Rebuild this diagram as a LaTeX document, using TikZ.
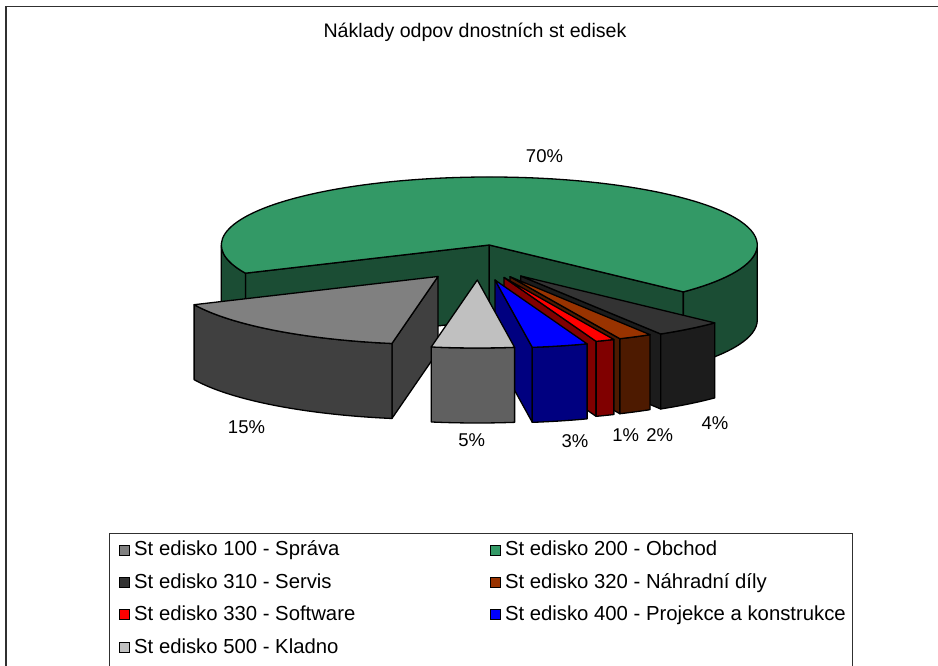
\documentclass[tikz,border=0pt]{standalone}
\usepackage{fontspec}
\setmainfont{Liberation Sans}
\usetikzlibrary{calc}
\definecolor{gtop}{HTML}{339966}
\definecolor{gwall}{HTML}{1B4D34}
\definecolor{ctop100}{HTML}{808080}
\definecolor{cwall100}{HTML}{404040}
\definecolor{ctop500}{HTML}{C0C0C0}
\definecolor{cwall500}{HTML}{606060}
\definecolor{ctop400}{HTML}{0000FF}
\definecolor{cwall400}{HTML}{000080}
\definecolor{ctop330}{HTML}{FF0000}
\definecolor{cwall330}{HTML}{800000}
\definecolor{ctop320}{HTML}{993300}
\definecolor{cwall320}{HTML}{4D1A00}
\definecolor{ctop310}{HTML}{333333}
\definecolor{cwall310}{HTML}{1C1C1C}
\definecolor{framec}{HTML}{303030}
% apex, start angle, end angle, colour
\newcommand\pieslicetop[4]{%
  \filldraw[fill=#4, edge] (#1) -- ($(#1)+(#2:268pt and 68pt)$)
    arc[start angle=#2, end angle=#3, x radius=268pt, y radius=68pt] -- cycle;}
\newcommand\pieslicewall[4]{%
  \filldraw[fill=#4, edge] ($(#1)+(#2:268pt and 68pt)$)
    arc[start angle=#2, end angle=#3, x radius=268pt, y radius=68pt] -- ++(0,-75)
    arc[start angle=#3, end angle=#2, x radius=268pt, y radius=68pt] -- cycle;}
\newcommand\piesliceside[3]{%
  \filldraw[fill=#3, edge] (#1) -- ($(#1)+(#2:268pt and 68pt)$) -- ++(0,-75)
    -- ($(#1)+(0,-75)$) -- cycle;}
\begin{document}
\begin{tikzpicture}[x=1pt,y=1pt,
  edge/.style={draw=black, line width=1.3pt, line join=round},
  pct/.style={font=\fontsize{18.5}{22}\selectfont, anchor=base, inner sep=0pt},
  leg/.style={font=\fontsize{20.3}{24}\selectfont, anchor=base west, inner sep=0pt},
  legmark/.style={draw=black, line width=0.9pt, minimum width=10pt, minimum height=10pt, inner sep=0pt}]
\clip (0,0) rectangle (938,666);
\fill[white] (0,0) rectangle (938,666);
% chart frame
\draw[framec, line width=1.4pt] (6,-5) -- (6,659.5) -- (945,659.5);
% title
\node[font=\fontsize{19.6}{24}\selectfont, anchor=base, inner sep=0pt] (title) at (475,628.7) {Náklady odpov dnostních st edisek};
% apexes
\coordinate (G) at (489.3,421);
\coordinate (A100) at (438,389.5);
\coordinate (A500) at (477.3,386);
\coordinate (A400) at (495,386);
\coordinate (A330) at (504,388.5);
\coordinate (A320) at (510,389.3);
\coordinate (A310) at (520.7,390);
% 200 - green
\piesliceside{G}{204.5}{gwall}
\piesliceside{G}{-43.6}{gwall}
\pieslicewall{G}{180}{204.5}{gwall}
\pieslicewall{G}{-43.6}{0}{gwall}
\pieslicetop{G}{-43.6}{204.5}{gtop}
% 310
\piesliceside{A310}{-58.5}{cwall310}
\pieslicewall{A310}{-58.5}{-43.6}{cwall310}
\pieslicetop{A310}{-58.5}{-43.6}{ctop310}
% 320
\piesliceside{A320}{-65.8}{cwall320}
\pieslicewall{A320}{-65.8}{-58.5}{cwall320}
\pieslicetop{A320}{-65.8}{-58.5}{ctop320}
% 330
\piesliceside{A330}{-69.9}{cwall330}
\pieslicewall{A330}{-69.9}{-65.8}{cwall330}
\pieslicetop{A330}{-69.9}{-65.8}{ctop330}
% 400
\piesliceside{A400}{-82}{cwall400}
\pieslicewall{A400}{-82}{-69.9}{cwall400}
\pieslicetop{A400}{-82}{-69.9}{ctop400}
% 100
\piesliceside{A100}{260.1}{cwall100}
\pieslicewall{A100}{204.5}{260.1}{cwall100}
\pieslicetop{A100}{204.5}{260.1}{ctop100}
% 500
\pieslicewall{A500}{-99.9}{-82}{cwall500}
\pieslicetop{A500}{-99.9}{-82}{ctop500}
% percentage labels
\node[pct] (p200) at (544.5,503) {70\%};
\node[pct] (p100) at (246.5,232) {15\%};
\node[pct] (p500) at (471.8,219) {5\%};
\node[pct] (p400) at (575,218) {3\%};
\node[pct] (p330) at (625.7,224) {1\%};
\node[pct] (p320) at (659.7,224) {2\%};
\node[pct] (p310) at (715,236) {4\%};
% legend
\draw[framec, line width=1pt] (109.7,-5) -- (109.7,132.7) -- (852,132.7) -- (852,-5);
\node[legmark, fill=ctop100] (m100) at (124,116) {};
\node[leg] (l100) at (134,110) {St edisko 100 - Správa};
\node[legmark, fill=gtop] (m200) at (495.5,116) {};
\node[leg] (l200) at (504.8,110) {St edisko 200 - Obchod};
\node[legmark, fill=ctop310] (m310) at (124,83.6) {};
\node[leg] (l310) at (134,77.6) {St edisko 310 - Servis};
\node[legmark, fill=ctop320] (m320) at (495.5,83.6) {};
\node[leg] (l320) at (504.8,77.6) {St edisko 320 - Náhradní díly};
\node[legmark, fill=ctop330] (m330) at (124,51.2) {};
\node[leg] (l330) at (134,45.2) {St edisko 330 - Software};
\node[legmark, fill=ctop400] (m400) at (495.5,51.2) {};
\node[leg] (l400) at (504.8,45.2) {St edisko 400 - Projekce a konstrukce};
\node[legmark, fill=ctop500] (m500) at (124,18.8) {};
\node[leg] (l500) at (134,12.7) {St edisko 500 - Kladno};
\end{tikzpicture}
\end{document}
